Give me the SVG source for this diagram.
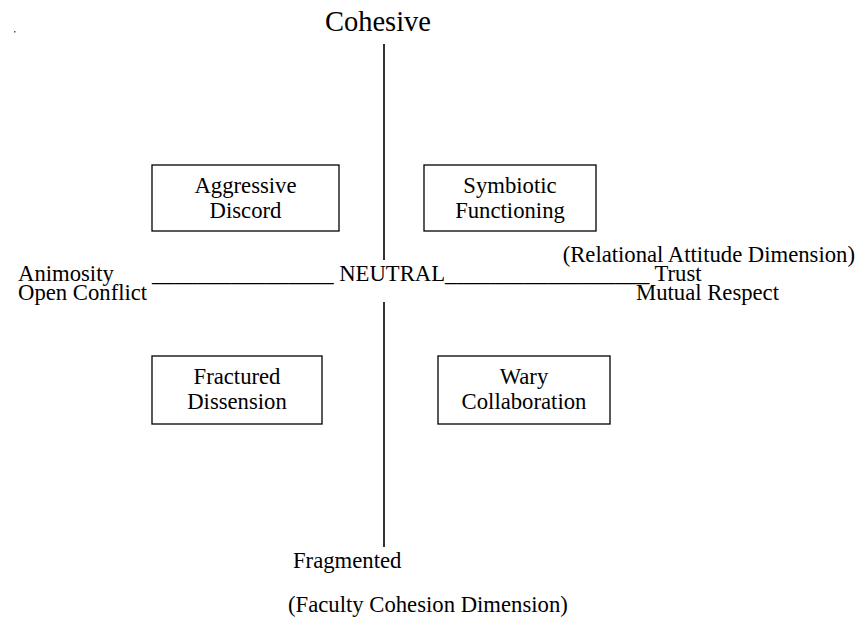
<svg xmlns="http://www.w3.org/2000/svg" width="859" height="625" viewBox="0 0 859 625">
<style>
text{font-family:"Liberation Serif","Times New Roman",serif;font-size:22.7px;fill:#000}
.c{text-anchor:middle}
.e{text-anchor:end}
.box{fill:#fff;stroke:#000;stroke-width:1.3}
.ax{stroke:#333;stroke-width:2}
</style>
<rect width="859" height="625" fill="#fff"/>
<rect x="14" y="31" width="1.5" height="1.5" fill="#555"/>
<g id="connectors">
<line class="ax" x1="384" y1="44" x2="384" y2="260"/>
<line class="ax" x1="384" y1="302" x2="384" y2="547"/>
</g>
<g id="cohesive"><text class="c" x="378" y="31" style="font-size:28.5px">Cohesive</text></g>
<g id="aggressive-discord">
<rect class="box" x="152" y="165" width="187" height="66"/>
<text class="c" x="245.5" y="193">Aggressive</text>
<text class="c" x="245.5" y="218">Discord</text>
</g>
<g id="symbiotic-functioning">
<rect class="box" x="424" y="165" width="172" height="66"/>
<text class="c" x="510" y="193">Symbiotic</text>
<text class="c" x="510" y="218">Functioning</text>
</g>
<g id="fractured-dissension">
<rect class="box" x="152" y="356" width="170" height="68"/>
<text class="c" x="237" y="384">Fractured</text>
<text class="c" x="237" y="409">Dissension</text>
</g>
<g id="wary-collaboration">
<rect class="box" x="438" y="356" width="172" height="68"/>
<text class="c" x="524" y="384">Wary</text>
<text class="c" x="524" y="409">Collaboration</text>
</g>
<g id="relational-axis">
<text class="e" x="855" y="262">(Relational Attitude Dimension)</text>
<text x="18" y="281">Animosity</text>
<text x="152" y="281" xml:space="preserve">________________ NEUTRAL__________________ Trust</text>
<text x="18" y="300">Open Conflict</text>
<text class="e" x="779" y="300">Mutual Respect</text>
</g>
<g id="cohesion-axis">
<text x="293" y="568">Fragmented</text>
<text x="288" y="612">(Faculty Cohesion Dimension)</text>
</g>
</svg>
